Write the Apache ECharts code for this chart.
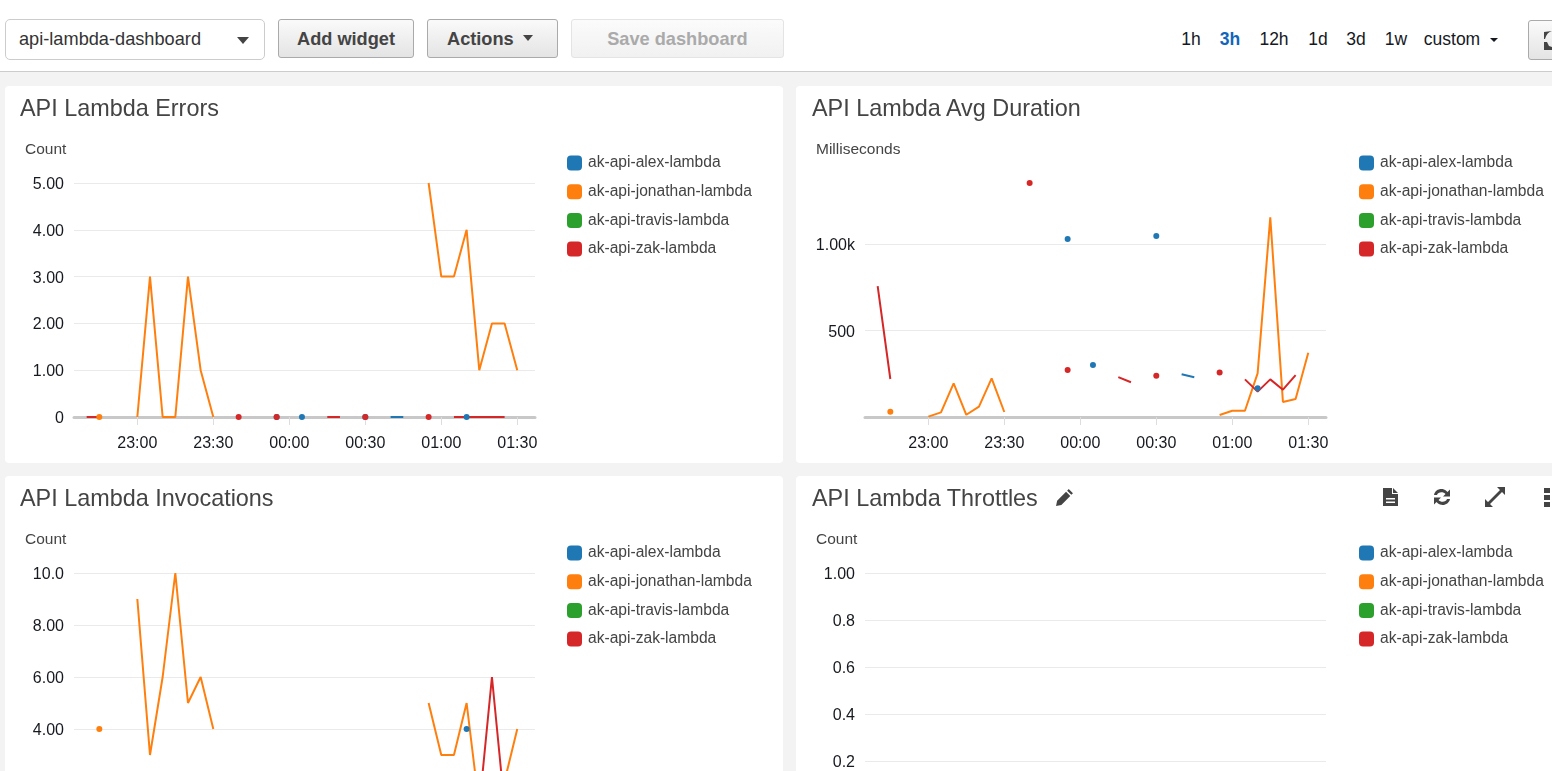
<!DOCTYPE html>
<html>
<head>
<meta charset="utf-8">
<title>api-lambda-dashboard</title>
<script src="https://cdn.jsdelivr.net/npm/echarts@6/dist/echarts.min.js"></script>
<style>
  html, body { margin: 0; padding: 0; width: 1552px; height: 771px; overflow: hidden; background: #f3f3f3; font-family: "Liberation Sans", Arial, sans-serif; color: #444; }
  .bar { position: absolute; left: 0; top: 0; width: 1552px; height: 71px; background: #fff; border-bottom: 1px solid #ccc; }
  .btn { position: absolute; box-sizing: border-box; top: 19px; height: 39px; line-height: 38px; text-align: center; font-size: 18.2px; font-weight: bold; color: #444; border: 1px solid #aaa; border-radius: 3px; background: linear-gradient(#fafafa, #e4e4e4); }
  .btn.off { color: #aaa; border-color: #e4e4e4; background: linear-gradient(#fbfbfb, #f1f1f1); }
  .select { position: absolute; box-sizing: border-box; left: 5px; top: 19px; width: 260px; height: 41px; line-height: 39px; padding-left: 13px; font-size: 18.2px; border: 1px solid #ccc; border-radius: 5px; background: #fff; color: #333; }
  .caret { position: absolute; width: 0; height: 0; border-left: 6px solid transparent; border-right: 6px solid transparent; border-top: 7px solid #444; }
  .range { position: absolute; top: 28px; font-size: 17.5px; line-height: 22px; color: #16191f; transform: translateX(-50%); }
  .range.on { color: #1166bb; font-weight: bold; }
  .card { position: absolute; width: 778px; background: #fff; border-radius: 4px; overflow: hidden; }
  .card h2 { position: absolute; left: 15px; top: 8px; margin: 0; font-size: 23.4px; line-height: 28px; font-weight: normal; color: #444; z-index: 2; }
  .chart { position: absolute; left: 0; top: 0; width: 778px; }
  svg.icon { position: absolute; fill: #444; z-index: 3; }
</style>
</head>
<body>
<div class="bar">
  <div class="select">api-lambda-dashboard</div>
  <div class="caret" style="left:237px;top:37px"></div>
  <div class="btn" style="left:278px;width:136px">Add widget</div>
  <div class="btn" style="left:427px;width:131px;text-align:left;padding-left:19px">Actions</div>
  <div class="caret" style="left:523px;top:35px;border-left-width:5px;border-right-width:5px;border-top-width:6px"></div>
  <div class="btn off" style="left:571px;width:213px">Save dashboard</div>
  <div class="range" style="left:1191px">1h</div>
  <div class="range on" style="left:1230px">3h</div>
  <div class="range" style="left:1274px">12h</div>
  <div class="range" style="left:1318px">1d</div>
  <div class="range" style="left:1356px">3d</div>
  <div class="range" style="left:1396px">1w</div>
  <div class="range" style="left:1452px">custom</div>
  <div class="caret" style="left:1490px;top:38px;border-left-width:4px;border-right-width:4px;border-top-width:4px;border-top-color:#16191f"></div>
  <div class="btn" style="left:1528px;width:60px;top:20px;height:40px"></div>
  <svg class="icon" style="left:1544px;top:30px" width="8" height="20" viewBox="0 0 8 20"><path d="M8 1 Q3 2 1 9 L0 9 L0 2 Z M0 12 L3 12 L5 16 L8 17 L8 20 L0 20 Z"/></svg>
</div>

<div class="card" style="left:5px;top:86px;height:377px"><h2>API Lambda Errors</h2><div class="chart" id="errorsChart" style="height:377px"></div></div>
<div class="card" style="left:796px;top:86px;height:377px"><h2 style="left:16px">API Lambda Avg Duration</h2><div class="chart" id="durationChart" style="height:377px"></div></div>
<div class="card" style="left:5px;top:476px;height:420px"><h2>API Lambda Invocations</h2><div class="chart" id="invocationsChart" style="height:420px"></div></div>
<div class="card" style="left:796px;top:476px;height:420px"><h2 style="left:16px">API Lambda Throttles</h2><div class="chart" id="throttlesChart" style="height:420px"></div></div>

<svg class="icon" style="left:1055px;top:488px" width="19" height="19" viewBox="0 0 18 18"><path d="M13 1 L17 5 L15.5 6.5 L11.5 2.5 Z M10.5 3.5 L14.5 7.5 L6 16 L1 17 L2 12 Z"/></svg>
<svg class="icon" style="left:1382px;top:487px" width="17" height="20" viewBox="0 0 17 20"><path fill-rule="evenodd" d="M1 1 L10 1 L10 7 L16 7 L16 19 L1 19 Z M11 1 L16 6 L11 6 Z M4 11 L13 11 L13 12.5 L4 12.5 Z M4 14.5 L13 14.5 L13 16 L4 16 Z"/></svg>
<svg class="icon" style="left:1432px;top:487px" width="20" height="20" viewBox="0 0 20 20"><path d="M2 8 C3 3 8 1 12 2.5 C13.5 3 14.5 4 15.5 5 L18 2.5 L18 9.5 L11 9.5 L13.5 7 C11.5 4.500 6 4.500 5 8 Z M18 12 C17 17 12 19 8 17.500 C6.500 17 5.500 16 4.500 15 L2 17.500 L2 10.500 L9 10.500 L6.500 13 C8.500 15.500 14 15.500 15 12 Z"/></svg>
<svg class="icon" style="left:1484px;top:486px" width="22" height="22" viewBox="0 0 22 22"><path d="M13 1 L21 1 L21 9 L18 6 L6 18 L9 21 L1 21 L1 13 L4 16 L16 4 Z"/></svg>
<svg class="icon" style="left:1544px;top:488px" width="8" height="19" viewBox="0 0 8 19"><path d="M0 0 H6 V5 H0 Z M0 7 H6 V12 H0 Z M0 14 H6 V19 H0 Z"/></svg>

<script>
var n = null;

// one slot every 5 minutes, 22:40 to 01:30
var times = ['22:40', '22:45', '22:50', '22:55', '23:00', '23:05', '23:10',
  '23:15', '23:20', '23:25', '23:30', '23:35', '23:40', '23:45',
  '23:50', '23:55', '00:00', '00:05', '00:10', '00:15', '00:20',
  '00:25', '00:30', '00:35', '00:40', '00:45', '00:50', '00:55',
  '01:00', '01:05', '01:10', '01:15', '01:20', '01:25', '01:30'];
var timeTicks = ['23:00', '23:30', '00:00', '00:30', '01:00', '01:30'];
var seriesNames = ['ak-api-alex-lambda', 'ak-api-jonathan-lambda', 'ak-api-travis-lambda', 'ak-api-zak-lambda'];
var seriesColors = ['#1f77b4', '#ff7f0e', '#2ca02c', '#d62728'];

var errorsAlex = [n, n, n, n, n, n, n,
  n, n, n, n, n, n, n,
  n, 0, n, 0, n, n, n,
  n, 0, n, 0, 0, n, n,
  n, n, 0, n, n, n, n];
var errorsJonathan = [n, 0, n, n, 0, 3, 0,
  0, 3, 1, 0, n, n, n,
  n, n, n, n, n, n, n,
  n, n, n, n, n, n, 5,
  3, 3, 4, 1, 2, 2, 1];
var errorsZak = [0, 0, n, n, n, n, n,
  n, n, n, n, n, 0, n,
  n, 0, n, n, n, 0, 0,
  n, 0, n, n, n, n, 0,
  n, 0, 0, 0, 0, 0, n];
var errorsTicks = [0, 1, 2, 3, 4, 5];
var errorsLabels = ['0', '1.00', '2.00', '3.00', '4.00', '5.00'];

var durationAlex = [n, n, n, n, n, n, n,
  n, n, n, n, n, n, n,
  n, 1031, n, 301, n, n, n,
  n, 1048, n, 247, 230, n, n,
  n, n, 166, n, n, n, n];
var durationJonathan = [n, 30, n, n, 2, 27, 195,
  13, 60, 224, 29, n, n, n,
  n, n, n, n, n, n, n,
  n, n, n, n, n, n, 12,
  36, 36, 253, 1156, 87, 104, 372];
var durationZak = [758, 220, n, n, n, n, n,
  n, n, n, n, n, 1355, n,
  n, 272, n, n, n, 231, 201,
  n, 239, n, n, n, n, 257,
  n, 218, 147, 218, 158, 243, n];
var durationTicks = [500, 1000];
var durationLabels = ['500', '1.00k'];

var invocationsAlex = [n, n, n, n, n, n, n,
  n, n, n, n, n, n, n,
  n, 1, n, 1, n, n, n,
  n, 1, n, 1, 1, n, n,
  n, n, 4, n, n, n, n];
var invocationsJonathan = [n, 4, n, n, 9, 3, 6,
  10, 5, 6, 4, n, n, n,
  n, n, n, n, n, n, n,
  n, n, n, n, n, n, 5,
  3, 3, 5, 1, 2, 2, 4];
var invocationsZak = [1, 1, n, n, n, n, n,
  n, n, n, n, n, 1, n,
  n, 1, n, n, n, 1, 1,
  n, 1, n, n, n, n, 1,
  n, 1, 1, 1, 6, 1, n];
var invocationsTicks = [0, 2, 4, 6, 8, 10];
var invocationsLabels = ['0', '2.00', '4.00', '6.00', '8.00', '10.0'];

var throttlesTicks = [0, 0.2, 0.4, 0.6, 0.8, 1];
var throttlesLabels = ['0', '0.2', '0.4', '0.6', '0.8', '1.00'];

// minutes since 22:00, the small hours carry on past midnight
function toMinutes(label) {
  var parts = label.split(':');
  var hour = +parts[0];
  return (hour >= 12 ? hour - 22 : hour + 2) * 60 + (+parts[1]);
}

function makeChart(id, unit, yMax, plotHeight, ticks, labels, values, legendLeft) {
  var myChart = echarts.init(document.getElementById(id));
  var tickMinutes = timeTicks.map(toMinutes);
  var series = seriesNames.map(function(name, s) {
    var list = values[s];
    return {
      name: name,
      type: 'line',
      clip: false,
      showAllSymbol: true,
      // only points with no neighbour get a dot
      symbol: function(v, params) {
        var i = params.dataIndex;
        return list[i - 1] == null && list[i + 1] == null ? 'circle' : 'none';
      },
      symbolSize: 6,
      itemStyle: { color: seriesColors[s] },
      lineStyle: { color: seriesColors[s], width: 2 },
      data: times.map(function(t, i) {
        return [toMinutes(t), list[i] == null ? '-' : list[i]];
      })
    };
  });
  var option = {
    animation: false,
    textStyle: { fontFamily: '"Liberation Sans", Arial, sans-serif' },
    title: {
      text: unit,
      left: 15,
      top: 51,
      textStyle: { fontSize: 15.5, fontWeight: 'normal', color: '#444' }
    },
    legend: {
      orient: 'vertical',
      left: legendLeft,
      top: 64,
      icon: 'path://M4 0H11A4 4 0 0 1 15 4V11A4 4 0 0 1 11 15H4A4 4 0 0 1 0 11V4A4 4 0 0 1 4 0Z',
      itemWidth: 15,
      itemHeight: 15,
      itemGap: 12.7,
      selectedMode: false,
      textStyle: { fontSize: 15.6, color: '#444', padding: [0, 0, 0, 1] },
      data: seriesNames
    },
    tooltip: { show: false },
    grid: { left: 69, top: 97, width: 461, height: plotHeight },
    xAxis: {
      type: 'value',
      min: 35,
      max: 217,
      axisLine: { onZero: false, lineStyle: { color: '#c8c8c8', width: 3 } },
      axisTick: { length: 8, lineStyle: { color: '#ddd' }, customValues: tickMinutes },
      axisLabel: {
        customValues: tickMinutes,
        fontSize: 16,
        color: '#16191f',
        margin: 19,
        hideOverlap: false,
        formatter: function(v) {
          return timeTicks[tickMinutes.indexOf(v)];
        }
      },
      splitLine: { show: false }
    },
    yAxis: {
      type: 'value',
      min: 0,
      max: yMax,
      axisLine: { show: false },
      axisTick: { show: false, customValues: ticks },
      axisLabel: {
        customValues: ticks,
        fontSize: 16,
        color: '#16191f',
        margin: 10,
        // sits the digits a touch below the grid line
        verticalAlign: 'top',
        lineHeight: 3,
        formatter: function(v) {
          return labels[ticks.indexOf(v)];
        }
      },
      splitLine: { show: true, lineStyle: { color: '#eaeaea', width: 1 } }
    },
    series: series
  };
  myChart.setOption(option);
}

makeChart('errorsChart', 'Count', 5, 234, errorsTicks, errorsLabels, [errorsAlex, errorsJonathan, [], errorsZak], 557);
makeChart('durationChart', 'Milliseconds', 1355, 234, durationTicks, durationLabels, [durationAlex, durationJonathan, [], durationZak], 558);
makeChart('invocationsChart', 'Count', 10, 260, invocationsTicks, invocationsLabels, [invocationsAlex, invocationsJonathan, [], invocationsZak], 557);
makeChart('throttlesChart', 'Count', 1, 235, throttlesTicks, throttlesLabels, [[], [], [], []], 558);
</script>
</body>
</html>
